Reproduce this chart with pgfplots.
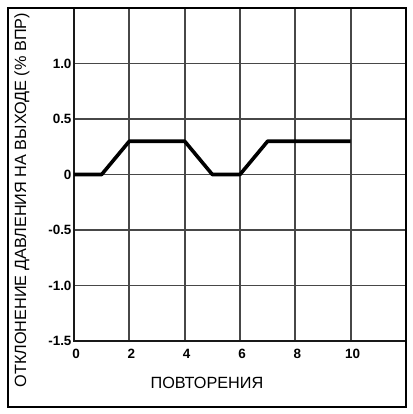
\documentclass[border=0pt]{standalone}
\usepackage{fontspec}
\setmainfont{Liberation Sans}
\usepackage{pgfplots}
\pgfplotsset{compat=1.18}

\begin{document}
\begin{tikzpicture}
% fixed page: 413 x 414
\path[use as bounding box] (-74bp,-73bp) rectangle (339bp,341bp);
\begin{axis}[
    at={(0,0)}, anchor=south west,
    scale only axis,
    width=332bp, height=333bp,
    xmin=0, xmax=12,
    ymin=-1.5, ymax=1.5,
    xtick={0,2,4,6,8,10,12},
    xticklabels={0,2,4,6,8,10,},
    ytick={-1.5,-1,-0.5,0,0.5,1,1.5},
    yticklabels={-1.5,-1.0,-0.5,0,0.5,1.0,},
    major tick length=0pt,
    grid=major,
    grid style={line width=1.7bp, black!72},
    axis line style={line width=1.7bp, black!90},
    tick label style={font=\fontsize{13.5}{15}\selectfont\bfseries},
    xticklabel style={yshift=-5bp, xshift=2bp},
    yticklabel style={xshift=1bp},
    xlabel={ПОВТОРЕНИЯ},
    ylabel={ОТКЛОНЕНИЕ ДАВЛЕНИЯ НА ВЫХОДЕ (\% ВПР)},
    label style={font=\fontsize{16.3}{18}\selectfont},
    xlabel style={at={(axis description cs:0.4006,-0.126)}, anchor=center},
    ylabel style={at={(axis description cs:-0.157,0.423)}, anchor=center, rotate=0},
]
\addplot[black, line width=3.6bp, line join=round] coordinates {
    (0,0)(1,0)(2,0.3)(4,0.3)(5,0)(6,0)(7,0.3)(10,0.3)
};
\end{axis}
\draw[line width=1.6bp, black] (-66bp,-66bp) rectangle (332bp,333bp);
\end{tikzpicture}
\end{document}
